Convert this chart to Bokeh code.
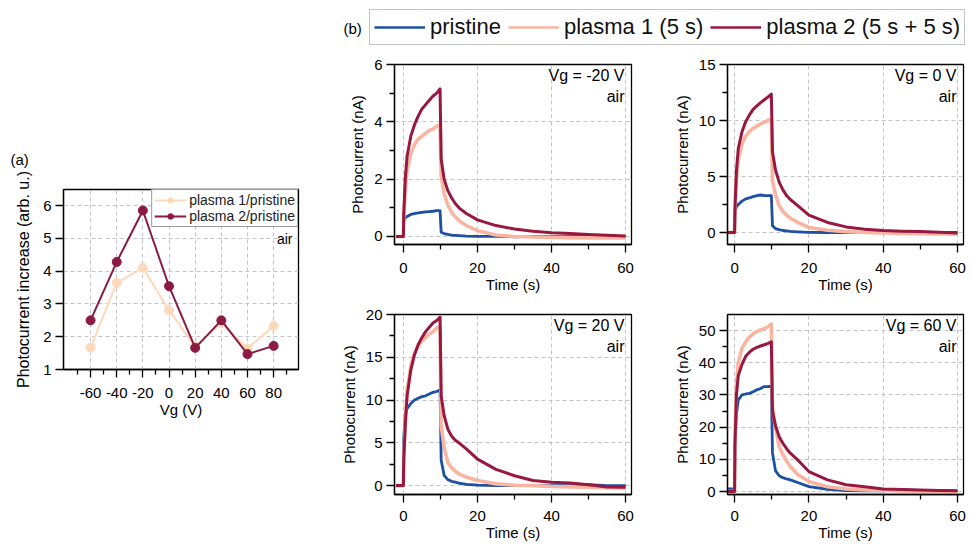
from bokeh.plotting import figure
from bokeh.models import Range1d, FixedTicker, Label, Legend, LegendItem
from bokeh.layouts import row, column
from bokeh.embed import file_html
from bokeh.resources import INLINE

FONT = "Liberation Sans"

# ---------------- data: panel (a) ----------------
vg = [-60, -40, -20, 0, 20, 40, 60, 80]
ratio_plasma1 = [1.67, 3.64, 4.10, 2.81, 1.69, 2.42, 1.64, 2.33]
ratio_plasma2 = [2.50, 4.28, 5.85, 3.54, 1.66, 2.50, 1.47, 1.72]
vg_ticks = [-60, -40, -20, 0, 20, 40, 60, 80]
vg_tick_labels = ["-60", "-40", "-20", "0", "20", "40", "60", "80"]
vg_minor_ticks = [-70, -50, -30, -10, 10, 30, 50, 70, 90]
ratio_ticks = [1, 2, 3, 4, 5, 6]

# ---------------- data: panel (b) ----------------
time_s = [-2, 0, 0.1, 0.5, 1, 2, 3, 4, 5, 6, 7, 8, 9, 9.9, 10.2, 11, 12, 13, 14, 15,
          17, 20, 25, 30, 35, 40, 45, 50, 55, 60]
time_ticks = [0, 20, 40, 60]
time_minor_ticks = [10, 30, 50]

# Vg = -20 V
pristine_m20 = [0, 0, 0.55, 0.65, 0.70, 0.77, 0.80, 0.82, 0.84, 0.86, 0.87, 0.88, 0.90, 0.90, 0.15, 0.10,
                0.07, 0.05, 0.04, 0.03, 0.01, 0.0, 0.0, -0.01, 0, 0, 0, 0, 0, 0]
plasma1_m20 = [0, 0, 0.6, 1.6, 2.3, 2.9, 3.2, 3.4, 3.5, 3.6, 3.7, 3.75, 3.85, 3.9, 2.1, 1.5,
               1.1, 0.85, 0.68, 0.56, 0.38, 0.2, 0.05, 0.0, -0.02, -0.03, -0.04, -0.05, -0.05, -0.05]
plasma2_m20 = [0, 0, 0.8, 2.0, 2.8, 3.5, 3.9, 4.2, 4.45, 4.6, 4.75, 4.9, 5.0, 5.15, 2.7, 2.0,
               1.6, 1.35, 1.15, 1.0, 0.8, 0.58, 0.38, 0.26, 0.18, 0.13, 0.10, 0.07, 0.04, 0.02]
# Vg = 0 V
pristine_0 = [0, 0, 1.8, 2.3, 2.5, 2.8, 3.0, 3.1, 3.2, 3.3, 3.35, 3.3, 3.3, 3.3, 0.6, 0.35,
              0.25, 0.18, 0.14, 0.10, 0.06, 0.02, 0, 0, 0, 0, 0, 0, 0, 0]
plasma1_0 = [0, 0, 2.0, 4.8, 6.5, 7.9, 8.6, 9.0, 9.3, 9.5, 9.7, 9.85, 10.0, 10.1, 4.6, 3.4,
             2.4, 1.9, 1.55, 1.3, 0.9, 0.45, 0.2, 0.08, 0.0, -0.05, -0.08, -0.1, -0.12, -0.15]
plasma2_0 = [0, 0, 2.0, 5.5, 7.5, 9.0, 9.9, 10.5, 11.0, 11.3, 11.6, 11.85, 12.1, 12.35, 7.2, 5.6,
             4.5, 3.8, 3.3, 2.95, 2.4, 1.55, 0.9, 0.5, 0.3, 0.17, 0.12, 0.08, 0.02, -0.05]
# Vg = 20 V
pristine_20 = [0, 0, 5.5, 8.3, 9.0, 9.6, 10.0, 10.2, 10.4, 10.5, 10.7, 10.9, 11.0, 11.2, 3.0, 1.2,
               0.7, 0.5, 0.4, 0.3, 0.15, 0.05, 0, 0, 0, 0, 0, 0.1, 0, 0]
plasma1_20 = [0, 0, 3.0, 7.5, 11.0, 14.0, 15.5, 16.3, 16.9, 17.3, 17.7, 18.0, 18.4, 18.6, 7.0, 4.5,
              2.7, 2.1, 1.7, 1.36, 1.0, 0.6, 0.2, 0.05, 0, -0.1, -0.15, -0.2, -0.25, -0.3]
plasma2_20 = [0, 0, 3.0, 7.0, 10.5, 13.5, 15.3, 16.5, 17.3, 18.0, 18.5, 19.0, 19.3, 19.7, 10.5, 8.2,
              6.6, 5.8, 5.3, 5.0, 4.3, 3.1, 1.9, 1.15, 0.6, 0.4, 0.3, 0.1, -0.15, -0.2]
# Vg = 60 V
pristine_60 = [0.8, 0.8, 15.0, 24.0, 28.5, 30.0, 30.3, 30.5, 31.0, 31.6, 32.0, 32.6, 32.6, 32.7, 12.0, 6.5,
               4.9, 4.3, 3.9, 3.6, 2.8, 1.5, 0.7, 0.3, 0.2, 0.2, 0.6, 0.3, 0.3, 0.2]
plasma1_60 = [0, 0, 15.0, 33.0, 40.0, 44.5, 46.5, 48.0, 49.0, 49.7, 50.2, 50.6, 51.2, 52.0, 26.0, 20.0,
              14.0, 11.5, 9.5, 7.8, 5.3, 3.1, 1.5, 0.8, 0.5, 0.3, 0.2, 0.1, 0.05, 0]
plasma2_60 = [0, 0, 14.0, 30.0, 36.0, 39.5, 42.0, 43.3, 44.2, 44.8, 45.2, 45.6, 46.0, 46.5, 25.0, 20.5,
              17.0, 15.0, 13.3, 11.9, 9.8, 6.2, 3.6, 2.1, 1.5, 0.8, 0.6, 0.5, 0.3, 0.2]

series_names = ["pristine", "plasma 1 (5 s)", "plasma 2 (5 s + 5 s)"]
C_PRISTINE = "#1d4fa3"
C_PLASMA1 = "#f8b6a2"
C_PLASMA2 = "#99183f"
C_A1 = "#fdd9bc"
C_A2 = "#8c1a42"


def style(p, xticks, xminor, yticks, yminor):
    p.outline_line_color = "black"
    p.outline_line_width = 1.3
    p.outline_line_alpha = 1
    p.background_fill_color = "white"
    p.border_fill_color = "white"
    for ax in p.axis:
        ax.axis_line_color = "black"
        ax.axis_line_width = 1.3
        ax.major_tick_line_color = "black"
        ax.minor_tick_line_color = "black"
        ax.major_tick_line_width = 1.3
        ax.minor_tick_line_width = 1.3
        ax.major_tick_in = 0
        ax.major_tick_out = 8
        ax.minor_tick_in = 0
        ax.minor_tick_out = 5
        ax.major_label_text_font = FONT
        ax.major_label_text_font_size = "15px"
        ax.major_label_text_color = "black"
        ax.axis_label_text_font = FONT
        ax.axis_label_text_font_size = "15px"
        ax.axis_label_text_font_style = "normal"
        ax.axis_label_text_color = "black"
    p.yaxis.major_label_standoff = 4
    xt = FixedTicker(ticks=xticks, minor_ticks=xminor)
    yt = FixedTicker(ticks=yticks, minor_ticks=yminor)
    p.xaxis.ticker = xt
    p.yaxis.ticker = yt
    p.xgrid.ticker = xt
    p.ygrid.ticker = yt
    for g in p.grid:
        g.grid_line_color = "#c4c4c4"
        g.grid_line_dash = "4 3"
        g.grid_line_width = 1


# ---------------- panel (a) ----------------
ax0, ax1 = -80.7, 99.0
ay0, ay1 = 1.0, 6.49
pa = figure(width=330, height=546, title="(a)\n ", x_range=Range1d(ax0, ax1), y_range=Range1d(ay0, ay1),
            min_border_left=63, min_border_right=32, min_border_top=189, min_border_bottom=177,
            output_backend="svg", toolbar_location=None)
style(pa, vg_ticks, vg_minor_ticks, ratio_ticks, [])
pa.title.align = "left"
pa.title.offset = -53
pa.title.text_font = FONT
pa.title.text_font_size = "15px"
pa.title.text_font_style = "normal"
pa.title.text_color = "black"
pa.xaxis.major_label_overrides = {t: s for t, s in zip(vg_ticks, vg_tick_labels)}
pa.xaxis.axis_label = "Vg (V)"
pa.yaxis.axis_label = "Photocurrent increase (arb. u.)"
pa.yaxis.axis_label_text_font_size = "16px"
pa.yaxis.axis_label_standoff = 8
pa.xaxis.major_label_standoff = 10
pa.xaxis.axis_label_standoff = 0

pa.line(vg, ratio_plasma1, line_color=C_A1, line_width=2, legend_label="plasma 1/pristine")
pa.scatter(vg, ratio_plasma1, size=9, fill_color=C_A1, line_color=C_A1, legend_label="plasma 1/pristine")
pa.line(vg, ratio_plasma2, line_color=C_A2, line_width=2, legend_label="plasma 2/pristine")
pa.scatter(vg, ratio_plasma2, size=9, fill_color=C_A2, line_color=C_A2, legend_label="plasma 2/pristine")
pa.legend.location = "top_right"
pa.legend.margin = 0
pa.legend.padding = 2
pa.legend.spacing = 0
pa.legend.glyph_width = 32
pa.legend.glyph_height = 14
pa.legend.label_height = 14
pa.legend.label_standoff = 3
pa.legend.label_text_font = FONT
pa.legend.label_text_font_size = "14px"
pa.legend.label_text_color = "#222222"
pa.legend.border_line_color = "#333333"
pa.legend.border_line_width = 1
pa.legend.background_fill_alpha = 1

sxa = 235 / (ax1 - ax0)
sya = 180 / (ay1 - ay0)
pa.add_layout(Label(x=ax1 - 6 / sxa, y=ay1 - 49 / sya, text="air", text_align="right",
                    text_baseline="middle", text_font=FONT, text_font_size="14px", text_color="black"))

# ---------------- legend (b) ----------------
pl = figure(width=642, height=50, x_range=Range1d(0, 642), y_range=Range1d(0, 50),
            x_axis_type=None, y_axis_type=None, min_border=0,
            output_backend="svg", toolbar_location=None)
pl.outline_line_color = None
r_leg = []
for c in [C_PRISTINE, C_PLASMA1, C_PLASMA2]:
    # legend-only glyphs, kept outside the visible range
    r_leg.append(pl.line(x=[-100, -90], y=[-100, -100], line_color=c, line_width=2.5))
leg = Legend(items=[LegendItem(label=n, renderers=[r]) for n, r in zip(series_names, r_leg)],
             orientation="horizontal", location=(39, 5), margin=0, padding=4, spacing=7,
             glyph_width=51, glyph_height=24, label_height=24, label_standoff=5,
             label_text_font=FONT, label_text_font_size="22px", label_text_color="#111111",
             border_line_color="#8a8a8a", border_line_width=1.5, background_fill_alpha=1)
pl.add_layout(leg, "center")
pl.add_layout(Label(x=13, y=22, text="(b)", text_align="left", text_baseline="middle",
                    text_font=FONT, text_font_size="15px", text_color="black"))


def make_sub(width, height, mbl, mbr, mbt, mbb, xr, yr, yticks, yminor, p_vals, p1_vals, p2_vals,
             vg_text, lab_standoff):
    p = figure(width=width, height=height, x_range=Range1d(*xr), y_range=Range1d(*yr),
               min_border_left=mbl, min_border_right=mbr, min_border_top=mbt, min_border_bottom=mbb,
               output_backend="svg", toolbar_location=None)
    style(p, time_ticks, time_minor_ticks, yticks, yminor)
    p.xaxis.axis_label = "Time (s)"
    p.yaxis.axis_label = "Photocurrent (nA)"
    p.xaxis.major_label_standoff = lab_standoff
    p.xaxis.axis_label_standoff = 0
    p.yaxis.axis_label_standoff = 5
    p.line(time_s, p_vals, line_color=C_PRISTINE, line_width=2.8, line_join="round")
    p.line(time_s, p1_vals, line_color=C_PLASMA1, line_width=3.6, line_join="round")
    p.line(time_s, p2_vals, line_color=C_PLASMA2, line_width=3.0, line_join="round")
    fw = width - mbl - mbr
    fh = height - mbt - mbb
    sx = fw / (xr[1] - xr[0])
    sy = fh / (yr[1] - yr[0])
    p.add_layout(Label(x=xr[1] - 7 / sx, y=yr[1] - 11 / sy, text=vg_text, text_align="right",
                       text_baseline="middle", text_font=FONT, text_font_size="16px", text_color="black"))
    p.add_layout(Label(x=xr[1] - 7 / sx, y=yr[1] - 32 / sy, text="air", text_align="right",
                       text_baseline="middle", text_font=FONT, text_font_size="16px", text_color="black"))
    return p


p1 = make_sub(333, 248, 64, 32, 14, 54, (-2.4, 61.6), (-0.28, 6.0), [0, 2, 4, 6], [1, 3, 5],
              pristine_m20, plasma1_m20, plasma2_m20, "Vg = -20 V", 10)
p2 = make_sub(309, 248, 64, 9, 14, 54, (-1.9, 61.6), (-1.07, 15.0), [0, 5, 10, 15], [2.5, 7.5, 12.5],
              pristine_0, plasma1_0, plasma2_0, "Vg = 0 V", 10)
p3 = make_sub(333, 248, 64, 32, 16, 52, (-2.4, 61.6), (-1.04, 20.0), [0, 5, 10, 15, 20],
              [2.5, 7.5, 12.5, 17.5], pristine_20, plasma1_20, plasma2_20, "Vg = 20 V", 8)
p4 = make_sub(309, 248, 64, 9, 16, 52, (-1.9, 61.6), (-0.93, 55.0), [0, 10, 20, 30, 40, 50],
              [5, 15, 25, 35, 45], pristine_60, plasma1_60, plasma2_60, "Vg = 60 V", 8)

layout = row(pa, column(pl, row(p1, p2), row(p3, p4)))
open("out.html", "w").write(file_html(layout, INLINE))
